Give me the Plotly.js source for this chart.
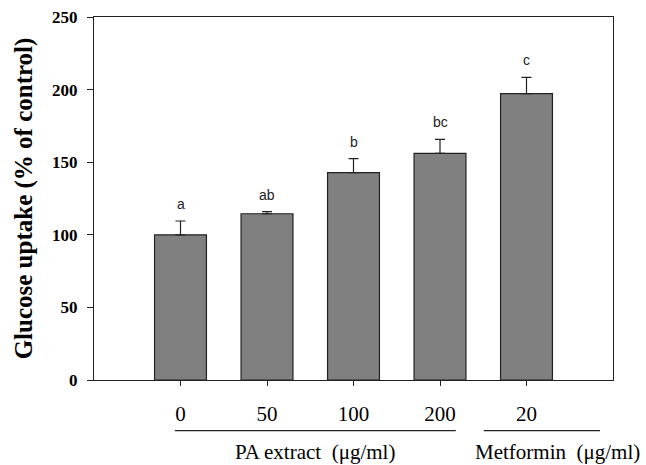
<!DOCTYPE html>
<html>
<head>
<meta charset="utf-8">
<script src="https://cdn.plot.ly/plotly-3.0.1.min.js"></script>
<style>html,body{margin:0;padding:0;background:#fff;}#chart{width:646px;height:465px;}</style>
</head>
<body>
<div id="chart"></div>
<script>
const categories = ['0', '50', '100', '200', '20'];
const uptake = [100, 114.5, 142.8, 156.1, 197.2];
const sem = [9.5, 1.4, 9.6, 9.6, 11.2];
const letters = ['a', 'ab', 'b', 'bc', 'c'];
const groupLabels = ['PA extract  (\u03bcg/ml)', 'Metformin  (\u03bcg/ml)'];

const serif = 'Liberation Serif';

const trace = {
  type: 'bar',
  x: categories,
  y: uptake,
  width: 0.6,
  marker: {color: '#808080', line: {color: '#222', width: 1.2}},
  error_y: {type: 'data', array: sem, symmetric: false, arrayminus: sem.map(() => 0),
            color: '#222', thickness: 1.2, width: 5},
  hoverinfo: 'none'
};

const annotations = letters.map((t, i) => ({
  x: i, y: uptake[i] + sem[i], xref: 'x', yref: 'y',
  xanchor: 'center', yanchor: 'middle',
  text: t, showarrow: false, yshift: 17,
  font: {family: 'Liberation Sans', size: 14, color: '#222'}
}));
annotations.push({x: 0.4265, y: -0.198, xref: 'paper', yref: 'paper', text: groupLabels[0],
  xanchor: 'center', yanchor: 'middle',
  showarrow: false, font: {family: serif, size: 21, color: '#000'}});
annotations.push({x: 0.893, y: -0.198, xref: 'paper', yref: 'paper', text: groupLabels[1],
  xanchor: 'center', yanchor: 'middle',
  showarrow: false, font: {family: serif, size: 21, color: '#000'}});

const layout = {
  width: 646, height: 465,
  margin: {l: 94, r: 33, t: 17, b: 85},
  paper_bgcolor: '#fff', plot_bgcolor: '#fff',
  showlegend: false,
  xaxis: {
    type: 'category', range: [-1, 5],
    showline: true, mirror: true, linecolor: '#222', linewidth: 1.2,
    ticks: 'outside', ticklen: 5, tickcolor: '#222',
    tickfont: {family: serif, size: 21, color: '#000'},
    ticklabelstandoff: 10,
    showgrid: false, zeroline: false, fixedrange: true
  },
  yaxis: {
    range: [0, 250], tickvals: [0, 50, 100, 150, 200, 250],
    showline: true, mirror: true, linecolor: '#222', linewidth: 1.2,
    ticks: 'outside', ticklen: 6, tickcolor: '#222',
    tickfont: {family: serif, size: 17, color: '#000', weight: 'bold'},
    ticklabelstandoff: 6,
    showgrid: false, zeroline: false,
    title: {text: 'Glucose uptake (% of control)', standoff: 12,
            font: {family: serif, size: 25, color: '#000', weight: 'bold'}}
  },
  shapes: [
    {type: 'line', xref: 'paper', yref: 'paper', x0: 0.156, x1: 0.697, y0: -0.1397, y1: -0.1397,
     line: {color: '#222', width: 1.2}},
    {type: 'line', xref: 'paper', yref: 'paper', x0: 0.751, x1: 0.975, y0: -0.1397, y1: -0.1397,
     line: {color: '#222', width: 1.2}}
  ],
  annotations: annotations
};

Plotly.newPlot('chart', [trace], layout, {displayModeBar: false, staticPlot: true});
</script>
</body>
</html>
